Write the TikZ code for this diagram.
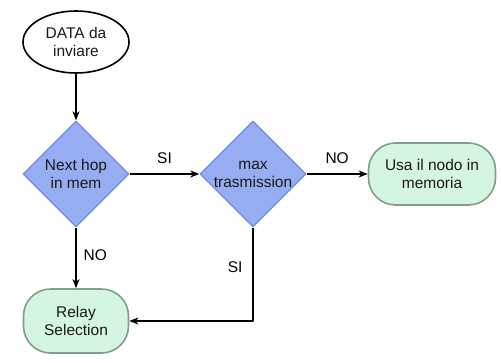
\documentclass[tikz,border=0pt]{standalone}
\usepackage{fontspec}
\setmainfont{Liberation Sans}
\usepackage{xcolor}
\usetikzlibrary{shapes.geometric,arrows.meta}

\definecolor{decfill}{RGB}{150,174,241}
\definecolor{decline}{RGB}{108,142,232}
\definecolor{endfill}{RGB}{213,245,227}
\definecolor{endline}{RGB}{128,158,136}

\begin{document}
\begin{tikzpicture}[x=1pt, y=-1pt, line join=round,
    >={Stealth[length=9pt, width=7pt, inset=2.5pt]},
    txt/.style={font=\fontsize{15.5}{18}\selectfont, align=center, text=black!90},
    start/.style={txt, ellipse, draw, line width=1.6pt, minimum width=106pt, minimum height=62pt, inner sep=0pt},
    choice/.style={txt, diamond, draw=decline, fill=decfill, line width=1.3pt, minimum width=106pt, minimum height=106pt, inner sep=0pt},
    finish/.style={txt, rectangle, rounded corners=27pt, draw=endline, fill=endfill, line width=1.6pt, inner sep=0pt},
    flow/.style={->, line width=1.2pt},
    lbl/.style={font=\fontsize{15.5}{18}\selectfont, inner sep=0pt}]

    \useasboundingbox (0,0) rectangle (501,363);

    % --- Blocks ---
    \node[start] (data) at (76,42) {DATA da\\inviare};
    \node[choice] (hop) at (76,174) {Next hop\\in mem};
    \node[choice] (maxt) at (253,174) {max\\trasmission};
    \node[finish, minimum width=127pt, minimum height=62pt] (usa) at (432,174) {Usa il nodo in\\memoria};
    \node[finish, minimum width=105pt, minimum height=64pt] (relay) at (76,321) {Relay\\Selection};

    % --- Connectors ---
    \draw[flow] (data) -- (hop);
    \draw[flow] (hop.east) -- node[lbl, midway, above=10pt] {SI} (maxt.west);
    \draw[flow] (maxt.east) -- node[lbl, midway, above=10pt] {NO} (usa.west);
    \draw[flow] (hop.south) -- node[lbl, pos=0.45, right=7pt] {NO} (relay.north);
    \draw[flow] (maxt.south) |- node[lbl, pos=0.21, left=10pt] {SI} (relay.east);

\end{tikzpicture}
\end{document}
